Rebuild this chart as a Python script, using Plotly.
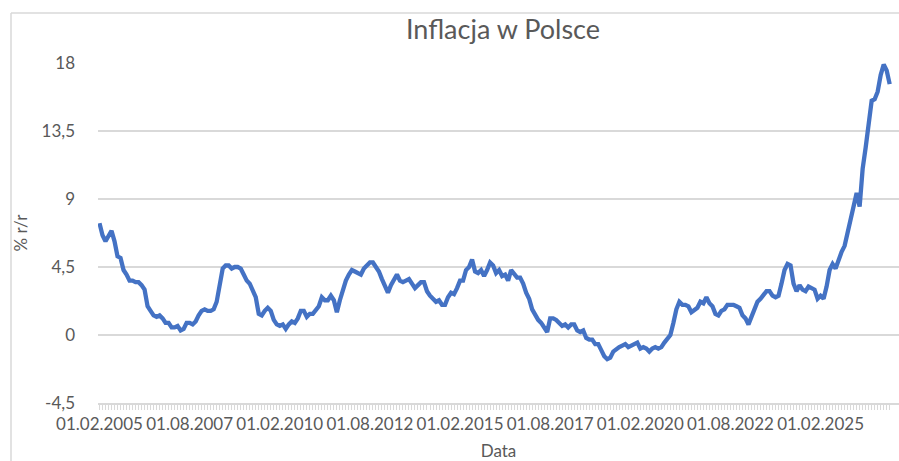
import plotly.graph_objects as go

# ---- data ----
values = [
    7.4, 6.6, 6.2, 6.6, 6.9, 6.2, 5.2, 5.1, 4.3, 4.0, 3.6, 3.6,
    3.5, 3.5, 3.3, 3.0, 1.9, 1.6, 1.3, 1.2, 1.3, 1.1, 0.8, 0.8,
    0.5, 0.5, 0.6, 0.3, 0.4, 0.8, 0.8, 0.7, 0.9, 1.3, 1.6, 1.7,
    1.6, 1.6, 1.7, 2.2, 3.4, 4.4, 4.6, 4.6, 4.4, 4.5, 4.5, 4.4,
    4.0, 3.6, 3.4, 3.0, 2.5, 1.4, 1.3, 1.6, 1.8, 1.6, 1.0, 0.7,
    0.6, 0.7, 0.4, 0.7, 0.9, 0.8, 1.1, 1.6, 1.6, 1.2, 1.4, 1.4,
    1.6, 1.9, 2.5, 2.3, 2.3, 2.6, 2.3, 1.5, 2.3, 3.0, 3.6, 4.0,
    4.3, 4.2, 4.1, 4.0, 4.4, 4.6, 4.8, 4.8, 4.5, 4.2, 3.7, 3.3,
    2.8, 3.3, 3.6, 4.0, 3.6, 3.5, 3.6, 3.7, 3.4, 3.1, 3.3, 3.5,
    3.5, 2.9, 2.6, 2.4, 2.2, 2.3, 2.0, 2.0, 2.5, 2.8, 2.7, 3.1,
    3.6, 3.6, 4.3, 4.5, 5.0, 4.2, 4.1, 4.3, 3.9, 4.3, 4.8, 4.6,
    4.1, 4.3, 3.9, 4.0, 3.6, 4.3, 4.0, 3.8, 3.8, 3.4, 2.8, 2.4,
    1.7, 1.3, 1.0, 0.8, 0.5, 0.2, 1.1, 1.1, 1.0, 0.8, 0.6, 0.7,
    0.5, 0.7, 0.7, 0.3, 0.2, 0.3, -0.2, -0.3, -0.3, -0.6, -0.6, -1.0,
    -1.4, -1.6, -1.5, -1.1, -0.9, -0.8, -0.7, -0.6, -0.8, -0.7, -0.6, -0.5,
    -0.9, -0.8, -0.9, -1.1, -0.9, -0.8, -0.9, -0.8, -0.5, -0.2, 0.0, 0.8,
    1.7, 2.2, 2.0, 2.0, 1.9, 1.5, 1.7, 1.8, 2.2, 2.1, 2.5, 2.1,
    1.9, 1.4, 1.3, 1.6, 1.7, 2.0, 2.0, 2.0, 1.9, 1.8, 1.3, 1.1,
    0.7, 1.2, 1.7, 2.2, 2.4, 2.6, 2.9, 2.9, 2.6, 2.5, 2.6, 3.4,
    4.3, 4.7, 4.6, 3.4, 2.9, 3.3, 3.0, 2.9, 3.2, 3.1, 3.0, 2.4,
    2.6, 2.4, 3.2, 4.3, 4.7, 4.4, 5.0, 5.5, 5.9, 6.8, 7.8, 8.6,
    9.4, 8.5, 11.0, 12.4, 13.9, 15.5, 15.6, 16.1, 17.2, 17.9, 17.5, 16.6,
]

start_year, start_month = 2005, 2
dates = []
for i in range(len(values)):
    m = start_month - 1 + i
    dates.append("01.%02d.%d" % (m % 12 + 1, start_year + m // 12))

label_step = 30
y_ticks = [-4.5, 0, 4.5, 9, 13.5, 18]
y_tick_text = ["-4,5", "0", "4,5", "9", "13,5", "18"]

title_text = "Inflacja w Polsce"
x_title = "Data"
y_title = "% r/r"

# ---- figure ----
FONT = "Lato"
GREY_TXT = "#595959"
GRID = "#d9d9d9"

fig = go.Figure(
    go.Scatter(
        x=dates, y=values, mode="lines",
        line=dict(color="#4472C4", width=4.3),
        hoverinfo="x+y",
    )
)

tick_text = [d if i % label_step == 0 else "" for i, d in enumerate(dates)]

W, H = 899, 461
L, R, T, B = 98, 0, 63, 58
pw, ph = W - L - R, H - T - B

def px_to_paper_x(px):
    return (px - L) / pw

def px_to_paper_y(py):
    return (H - B - py) / ph

fig.update_layout(
    width=W, height=H,
    margin=dict(l=L, r=R, t=T, b=B),
    paper_bgcolor="white", plot_bgcolor="white",
    showlegend=False,
    font=dict(family=FONT, color=GREY_TXT, size=17),
    title=dict(
        text=title_text, x=px_to_paper_x(503), xref="paper", xanchor="center",
        y=1 - 30 / H, yanchor="middle",
        font=dict(family=FONT, size=27, color=GREY_TXT),
    ),
    xaxis=dict(
        type="category",
        range=[-0.5, 266.1],
        tickmode="array", tickvals=dates, ticktext=tick_text,
        ticks="outside", ticklen=5, tickwidth=1, tickcolor=GRID,
        showgrid=False, showline=True, linecolor=GRID, linewidth=1.5,
        tickangle=0, tickfont=dict(size=17, color=GREY_TXT),
        title=dict(text=x_title, standoff=18, font=dict(size=17, color=GREY_TXT)),
        automargin=False,
    ),
    yaxis=dict(
        range=[-4.5, 18],
        tickmode="array", tickvals=y_ticks, ticktext=y_tick_text,
        showgrid=True, gridcolor=GRID, gridwidth=1.5,
        zeroline=False, showline=False, ticks="",
        ticklabelstandoff=22,
        tickfont=dict(size=17, color=GREY_TXT),
        title=dict(text=y_title, standoff=9, font=dict(size=17, color=GREY_TXT)),
        automargin=False,
    ),
    shapes=[
        dict(type="line", xref="paper", yref="paper",
             x0=px_to_paper_x(11), x1=px_to_paper_x(905),
             y0=px_to_paper_y(13), y1=px_to_paper_y(13),
             line=dict(color=GRID, width=1.5)),
        dict(type="line", xref="paper", yref="paper",
             x0=px_to_paper_x(11), x1=px_to_paper_x(11),
             y0=px_to_paper_y(13), y1=px_to_paper_y(470),
             line=dict(color=GRID, width=1.5)),
    ],
)

fig.write_html(
    "out.html",
    config={"displayModeBar": False},
    post_script="document.body.style.margin='0';document.body.style.overflow='hidden';",
)
